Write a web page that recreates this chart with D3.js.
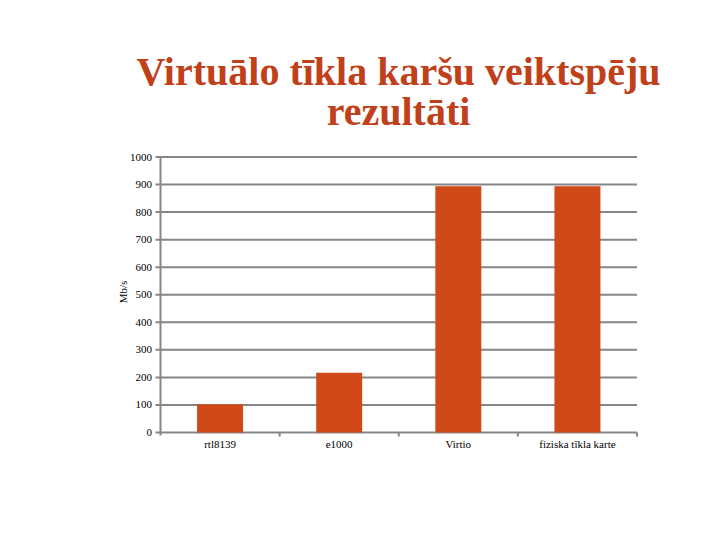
<!DOCTYPE html>
<html><head><meta charset="utf-8">
<script src="https://cdn.jsdelivr.net/npm/d3@7"></script>
<style>body{margin:0;background:#fff} text{font-family:'Liberation Serif','DejaVu Serif',serif}</style>
</head><body>
<svg id="c" width="720" height="540"></svg>
<script>
const categories = ["rtl8139", "e1000", "Virtio", "fiziska tīkla karte"];
const values = [102, 217, 894, 894];
const yTicks = [0, 100, 200, 300, 400, 500, 600, 700, 800, 900, 1000];
const titleLines = ["Virtuālo tīkla karšu veiktspēju", "rezultāti"];
const yLabel = "Mb/s";

(function () {
const svg = d3.select("#c");
const pLeft = 160.5, pRight = 637, pTop = 157, pBottom = 432.5;
const x = d3.scaleBand().domain(categories).range([pLeft, pRight]).paddingInner(0.614).paddingOuter(0.307);
const y = d3.scaleLinear().domain([0, 1000]).range([pBottom, pTop]);
const grid = "#868686";

svg.append("text")
  .attr("font-weight", "bold").attr("font-size", 40).attr("fill", "#C0401A")
  .attr("text-anchor", "middle")
  .selectAll("tspan").data(titleLines).join("tspan")
  .attr("x", 398.5).attr("y", (d, i) => 85 + i * 40).text(d => d);

svg.append("g").selectAll("line").data(yTicks).join("line")
  .attr("x1", pLeft - 5).attr("x2", pRight)
  .attr("y1", d => y(d)).attr("y2", d => y(d))
  .attr("stroke", grid).attr("stroke-width", 2);

svg.append("g").selectAll("rect").data(values).join("rect")
  .attr("x", (d, i) => x(categories[i]))
  .attr("width", x.bandwidth())
  .attr("y", d => y(d))
  .attr("height", d => y(0) - y(d))
  .attr("fill", "#D04A19");

svg.append("line").attr("x1", pLeft).attr("x2", pLeft).attr("y1", pTop).attr("y2", pBottom + 3)
  .attr("stroke", grid).attr("stroke-width", 2);

const boundaries = categories.map(c => x(c) - x.step() * x.paddingInner() / 2 + x.step());
svg.append("g").selectAll("line").data(boundaries).join("line")
  .attr("x1", d => d).attr("x2", d => d).attr("y1", pBottom).attr("y2", pBottom + 4)
  .attr("stroke", grid).attr("stroke-width", 2);

svg.append("g").selectAll("text").data(yTicks).join("text")
  .attr("x", 152).attr("y", d => y(d) + 3.5)
  .attr("text-anchor", "end")
  .attr("font-size", 11).attr("fill", "#000").text(d => d);

svg.append("g").selectAll("text").data(categories).join("text")
  .attr("x", d => x(d) + x.bandwidth() / 2).attr("y", 448)
  .attr("text-anchor", "middle")
  .attr("font-size", 11).attr("fill", "#000").text(d => d);

svg.append("text").attr("transform", "translate(127,292) rotate(-90)")
  .attr("text-anchor", "middle")
  .attr("font-size", 11).attr("fill", "#000").text(yLabel);
})();
</script>
</body></html>
